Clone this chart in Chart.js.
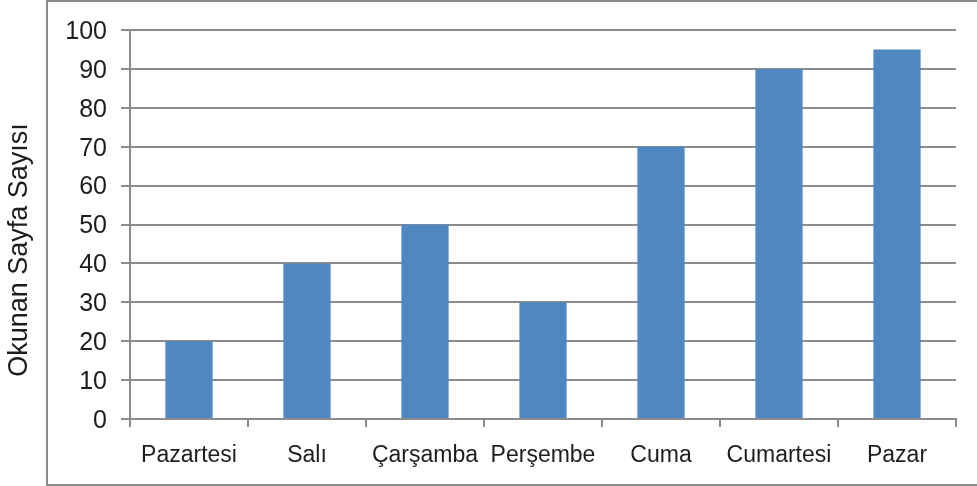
<!DOCTYPE html>
<html>
<head>
<meta charset="utf-8">
<script src="https://cdn.jsdelivr.net/npm/chart.js@4"></script>
<style>
  html, body { margin: 0; padding: 0; background: #fff; }
  #wrap { width: 977px; height: 486px; }
</style>
</head>
<body>
<div id="wrap"><canvas id="chart" width="977" height="486"></canvas></div>
<script>
const days = ["Pazartesi", "Salı", "Çarşamba", "Perşembe", "Cuma", "Cumartesi", "Pazar"];
const pages = [20, 40, 50, 30, 70, 90, 95];
const yTitle = "Okunan Sayfa Sayısı";

const gray = "#8c8c8c";
const textColor = "#1d1d1d";
const fontFamily = "'Liberation Sans', Arial, sans-serif";

// outer frame and y title, drawn outside the chart area
const framePlugin = {
  id: "frame",
  afterDraw(chart) {
    const ctx = chart.ctx;
    ctx.save();
    ctx.strokeStyle = gray;
    ctx.lineWidth = 2;
    ctx.strokeRect(47, 1, 960, 484);
    ctx.translate(20, 250);
    ctx.rotate(-Math.PI / 2);
    ctx.fillStyle = textColor;
    ctx.font = "27px " + fontFamily;
    ctx.textAlign = "center";
    ctx.textBaseline = "middle";
    ctx.fillText(yTitle, 0, 0);
    ctx.restore();
  },
};

new Chart(document.getElementById("chart"), {
  type: "bar",
  data: {
    labels: days,
    datasets: [
      {
        data: pages,
        backgroundColor: "rgb(79, 135, 193)",
        barPercentage: 0.4,
        categoryPercentage: 1,
      },
    ],
  },
  options: {
    responsive: false,
    animation: false,
    layout: { padding: { top: 30, right: 21, left: 0, bottom: 0 } },
    plugins: { legend: { display: false }, tooltip: { enabled: false } },
    scales: {
      x: {
        afterFit: (scale) => { scale.height = 67; },
        grid: { drawOnChartArea: false, drawTicks: true, tickLength: 8, color: gray, lineWidth: 2 },
        border: { color: gray, width: 2 },
        ticks: { color: textColor, font: { size: 23, family: fontFamily }, padding: 15, maxRotation: 0, autoSkip: false },
      },
      y: {
        min: 0,
        max: 100,
        afterFit: (scale) => { scale.width = 130; },
        grid: { color: gray, lineWidth: 2, tickLength: 9 },
        border: { color: gray, width: 2 },
        ticks: { stepSize: 10, color: textColor, font: { size: 25, family: fontFamily }, padding: 14, labelOffset: 2 },
      },
    },
  },
  plugins: [framePlugin],
});
</script>
</body>
</html>
